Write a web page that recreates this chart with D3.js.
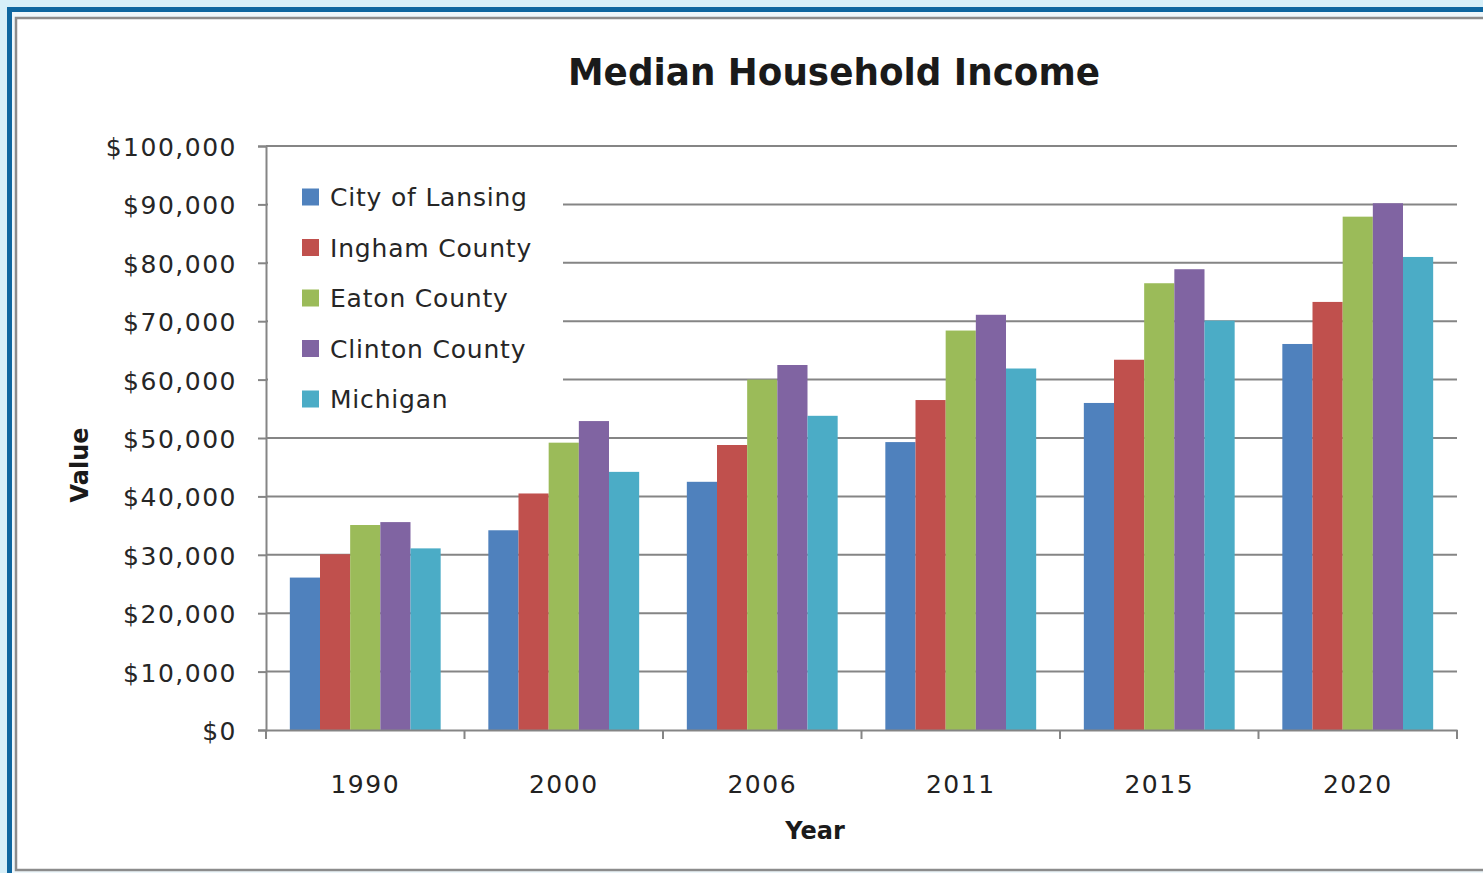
<!DOCTYPE html>
<html>
<head>
<meta charset="utf-8">
<script src="https://cdn.jsdelivr.net/npm/d3@7"></script>
<style>
  html, body { margin: 0; padding: 0; background: #d6eff9; }
  svg { display: block; }
</style>
</head>
<body>
<svg id="chart" width="1483" height="873"></svg>
<script>
// ---- data ----
const years = ["1990", "2000", "2006", "2011", "2015", "2020"];
const seriesNames = ["City of Lansing", "Ingham County", "Eaton County", "Clinton County", "Michigan"];
const lansing  = [26100, 34200, 42500, 49300, 56000, 66100];
const ingham   = [30100, 40500, 48800, 56500, 63400, 73300];
const eaton    = [35100, 49200, 60000, 68400, 76500, 87900];
const clinton  = [35600, 52900, 62500, 71100, 78900, 90200];
const michigan = [31100, 44200, 53800, 61900, 70100, 81000];
const yTicks = [0, 10000, 20000, 30000, 40000, 50000, 60000, 70000, 80000, 90000, 100000];
const colors = ["#4f81bd", "#c0504d", "#9bbb59", "#8064a2", "#4bacc6"];

const seriesValues = [lansing, ingham, eaton, clinton, michigan];

const svg = d3.select("#chart");
const W = 1483, H = 873;

// ---- frame ----
svg.append("rect").attr("x", 0).attr("y", 0).attr("width", W).attr("height", H).attr("fill", "#d6eff9");
svg.append("rect").attr("x", 7).attr("y", 7).attr("width", W).attr("height", H).attr("fill", "#0d66a0");
svg.append("rect").attr("x", 12).attr("y", 12).attr("width", W).attr("height", H).attr("fill", "#eef7fb");
svg.append("rect").attr("x", 16).attr("y", 18).attr("width", W + 20).attr("height", 852)
  .attr("fill", "#ffffff").attr("stroke", "#8c8c8c").attr("stroke-width", 2.5);

// ---- scales ----
const plot = { left: 266, right: 1457, top: 146, bottom: 730 };
const x0 = d3.scaleBand().domain(years).range([plot.left, plot.right]).paddingInner(0).paddingOuter(0);
const x1 = d3.scaleBand().domain(d3.range(seriesNames.length)).range([0, x0.bandwidth()])
  .paddingInner(0).paddingOuter(0.79);
const y = d3.scaleLinear().domain([0, 100000]).range([plot.bottom, plot.top]);

const fmt = v => "$" + d3.format(",")(v);

// ---- gridlines ----
svg.append("g").selectAll("line").data(yTicks.filter(d => d > 0)).join("line")
  .attr("x1", plot.left).attr("x2", plot.right)
  .attr("y1", d => y(d)).attr("y2", d => y(d))
  .attr("stroke", "#858585").attr("stroke-width", 2);

// ---- legend background (covers gridlines) ----
const legend = svg.append("g");
legend.append("rect").attr("x", 268).attr("y", 170).attr("width", 295).attr("height", 252).attr("fill", "#ffffff");

// ---- bars ----
const gGroups = svg.append("g").selectAll("g").data(years).join("g")
  .attr("transform", d => `translate(${x0(d)},0)`);
gGroups.selectAll("rect")
  .data((yr, i) => seriesValues.map((vals, s) => ({ s, v: vals[i] })))
  .join("rect")
  .attr("x", d => x1(d.s))
  .attr("width", x1.bandwidth())
  .attr("y", d => y(d.v))
  .attr("height", d => y(0) - y(d.v))
  .attr("fill", d => colors[d.s]);

// ---- y axis ----
const yAxis = d3.axisLeft(y).tickValues(yTicks).tickFormat(fmt).tickSize(8).tickPadding(21);
const gy = svg.append("g").attr("transform", `translate(${plot.left},0)`).call(yAxis);
gy.select(".domain").attr("stroke", "#858585").attr("stroke-width", 2);
gy.selectAll(".tick line").attr("stroke", "#858585").attr("stroke-width", 2);
gy.selectAll(".tick text")
  .attr("font-family", "DejaVu Sans, Verdana, sans-serif")
  .attr("font-size", 25).attr("letter-spacing", 1.5)
  .attr("fill", "#262626").attr("dy", "0.38em");

// ---- x axis ----
const xAxis = d3.axisBottom(x0).tickSize(0).tickPadding(50);
const gx = svg.append("g").attr("transform", `translate(0,${plot.bottom})`).call(xAxis);
gx.select(".domain").attr("stroke", "#858585").attr("stroke-width", 2);
gx.selectAll(".tick text")
  .attr("font-family", "DejaVu Sans, Verdana, sans-serif")
  .attr("font-size", 25).attr("letter-spacing", 1.5)
  .attr("fill", "#222222").attr("dy", "0.5em");
// category boundary ticks
svg.append("g").selectAll("line")
  .data(years.map(d => x0(d)).concat([x0(years[years.length - 1]) + x0.bandwidth()]))
  .join("line")
  .attr("x1", d => d).attr("x2", d => d)
  .attr("y1", plot.bottom).attr("y2", plot.bottom + 9)
  .attr("stroke", "#858585").attr("stroke-width", 2);

// ---- legend items ----
const legendY = d3.scalePoint().domain(d3.range(seriesNames.length)).range([197, 399]);
const li = legend.selectAll("g.item").data(seriesNames).join("g").attr("class", "item")
  .attr("transform", (d, i) => `translate(302,${legendY(i)})`);
li.append("rect").attr("x", 0).attr("y", -8.5).attr("width", 17).attr("height", 17)
  .attr("fill", (d, i) => colors[i]);
li.append("text").attr("x", 28).attr("y", 0).attr("dy", "0.36em")
  .attr("font-family", "DejaVu Sans, Verdana, sans-serif")
  .attr("font-size", 25).attr("letter-spacing", 0.8)
  .attr("fill", "#262626").text(d => d);

// ---- titles ----
svg.append("text").attr("x", 834).attr("y", 85).attr("text-anchor", "middle")
  .attr("font-family", "DejaVu Sans, Verdana, sans-serif").attr("font-weight", "bold")
  .attr("font-size", 38).attr("textLength", 532).attr("lengthAdjust", "spacingAndGlyphs")
  .attr("fill", "#1a1a1a").text("Median Household Income");

svg.append("text").attr("transform", "translate(88,465) rotate(-90)").attr("text-anchor", "middle")
  .attr("font-family", "DejaVu Sans, Verdana, sans-serif").attr("font-weight", "bold")
  .attr("font-size", 24).attr("fill", "#1a1a1a").text("Value");

svg.append("text").attr("x", 815).attr("y", 839).attr("text-anchor", "middle")
  .attr("font-family", "DejaVu Sans, Verdana, sans-serif").attr("font-weight", "bold")
  .attr("font-size", 24).attr("fill", "#1a1a1a").text("Year");
</script>
</body>
</html>
